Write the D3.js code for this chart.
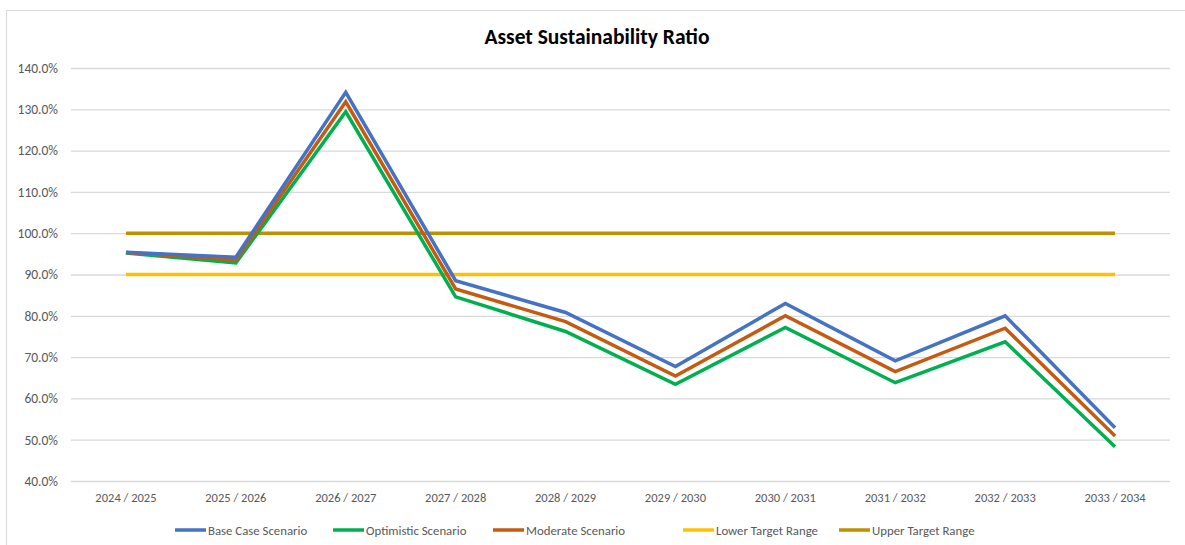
<!DOCTYPE html>
<html>
<head>
<meta charset="utf-8">
<script src="https://cdn.jsdelivr.net/npm/d3@7"></script>
<style>
  body { margin: 0; background: #fff; }
  svg text { font-family: Calibri, Carlito, "Open Sans", sans-serif; }
</style>
</head>
<body>
<div id="chart"></div>
<script>
// categories and series (ratio values)
var years = ['2024 / 2025', '2025 / 2026', '2026 / 2027', '2027 / 2028', '2028 / 2029',
             '2029 / 2030', '2030 / 2031', '2031 / 2032', '2032 / 2033', '2033 / 2034'];
var baseCase   = [0.954, 0.942, 1.341, 0.885, 0.808, 0.677, 0.830, 0.691, 0.800, 0.529];
var optimistic = [0.952, 0.928, 1.294, 0.846, 0.762, 0.634, 0.772, 0.638, 0.737, 0.483];
var moderate   = [0.953, 0.935, 1.318, 0.865, 0.786, 0.654, 0.800, 0.665, 0.770, 0.509];
var lowerTarget = years.map(function() { return 0.90; });
var upperTarget = years.map(function() { return 1.00; });
var yTicks = [0.4, 0.5, 0.6, 0.7, 0.8, 0.9, 1.0, 1.1, 1.2, 1.3, 1.4];

var series = [
    { name: 'Base Case Scenario', values: baseCase, color: '#4472c4' },
    { name: 'Optimistic Scenario', values: optimistic, color: '#00b050' },
    { name: 'Moderate Scenario', values: moderate, color: '#c55a11' },
    { name: 'Lower Target Range', values: lowerTarget, color: '#ffc000' },
    { name: 'Upper Target Range', values: upperTarget, color: '#bf9000' }
];

var width = 1185, height = 545;
var margin = { top: 68, right: 15, bottom: 64, left: 71 };

var svg = d3.select('#chart').append('svg')
    .attr('width', width)
    .attr('height', height);

// chart border
svg.append('rect')
    .attr('x', 6.5).attr('y', 10.5)
    .attr('width', width + 10).attr('height', height)
    .attr('fill', 'none')
    .attr('stroke', '#d9d9d9');

svg.append('text')
    .attr('x', 597).attr('y', 44)
    .attr('text-anchor', 'middle')
    .style('font-size', '21.5px')
    .style('font-weight', 'bold')
    .attr('fill', '#000')
    .text('Asset Sustainability Ratio');

var x = d3.scaleBand()
    .domain(years)
    .range([margin.left, width - margin.right]);

var y = d3.scaleLinear()
    .domain([0.4, 1.4])
    .range([height - margin.bottom, margin.top]);

// gridlines + y labels
var yAxis = d3.axisLeft(y)
    .tickValues(yTicks)
    .tickSize(-(width - margin.right - margin.left))
    .tickFormat(d3.format('.1%'))
    .tickPadding(13);

svg.append('g')
    .attr('transform', 'translate(' + margin.left + ',0)')
    .call(yAxis)
    .call(function(g) {
        g.select('.domain').remove();
        g.selectAll('line').attr('stroke', '#d9d9d9').attr('stroke-width', 1.3);
        g.selectAll('text').attr('fill', '#595959').style('font-size', '13.5px');
    });

// x labels
var xAxis = d3.axisBottom(x).tickSize(0).tickPadding(12);
svg.append('g')
    .attr('transform', 'translate(0,' + y(0.4) + ')')
    .call(xAxis)
    .call(function(g) {
        g.select('.domain').remove();
        g.selectAll('text').attr('fill', '#595959').style('font-size', '12.5px');
    });

var line = d3.line()
    .x(function(d, i) { return x(years[i]) + x.bandwidth() / 2; })
    .y(function(d) { return y(d); });

// draw targets first, then scenarios on top (base case last)
var order = [3, 4, 1, 2, 0];
order.forEach(function(k) {
    var s = series[k];
    svg.append('path')
        .datum(s.values)
        .attr('d', line)
        .attr('fill', 'none')
        .attr('stroke', s.color)
        .attr('stroke-width', 3.5)
        .attr('stroke-linejoin', 'miter');
});

// legend
var legendX = [175, 333, 493, 683, 839];
var legend = svg.selectAll('.legend')
    .data(series)
    .enter().append('g')
    .attr('class', 'legend')
    .attr('transform', function(d, i) { return 'translate(' + legendX[i] + ',530)'; });

legend.append('line')
    .attr('x1', 0).attr('x2', 31)
    .attr('y1', 0).attr('y2', 0)
    .attr('stroke', function(d) { return d.color; })
    .attr('stroke-width', 3.5);

legend.append('text')
    .attr('x', 33).attr('y', 4.5)
    .attr('fill', '#595959')
    .style('font-size', '12.8px')
    .text(function(d) { return d.name; });
</script>
</body>
</html>
